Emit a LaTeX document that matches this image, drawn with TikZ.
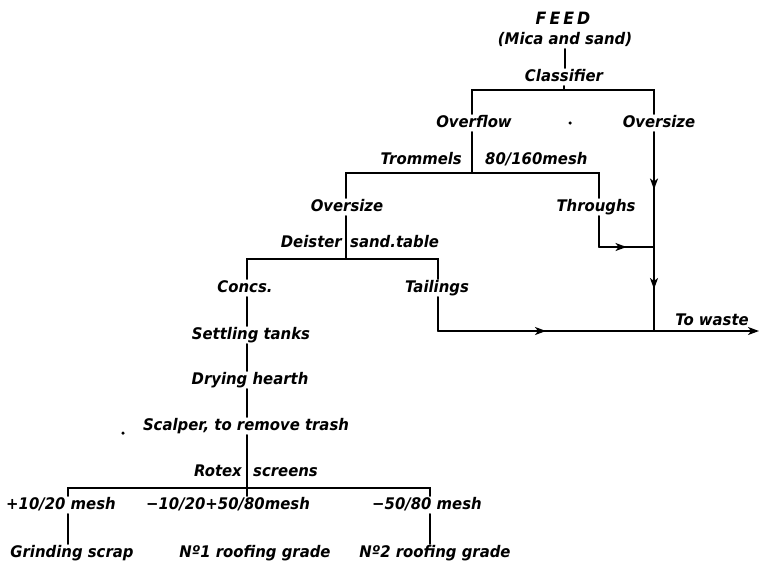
\documentclass[tikz,border=0pt]{standalone}
\usepackage{fontspec}
\newfontfamily\labfont{DejaVu Sans}[BoldItalicFont={DejaVu Sans Bold Oblique},FakeStretch=0.93]
\usetikzlibrary{arrows.meta,decorations.markings}
\tikzset{
  lbl/.style={inner sep=1pt, text height=12pt, text depth=3.5pt},
  flow/.style={line width=1.7pt, line cap=round},
  midarr/.style={flow, postaction={decorate},
    decoration={markings, mark=at position 0.5 with {\arrow{Stealth[length=11pt,width=8pt,inset=3pt]}}}},
  endarr/.style={flow, -{Stealth[length=11pt,width=8pt,inset=3pt]}},
  speck/.style={fill=black, circle, inner sep=0pt, minimum size=3.5pt}
}
\begin{document}
\begin{tikzpicture}[x=1pt,y=-1pt,font=\labfont\fontsize{16}{19}\selectfont\bfseries\itshape]
\useasboundingbox (0,0) rectangle (760,563);
% helper x positions of vertical lines
\coordinate (xA) at (472,0);
\coordinate (xB) at (654,0);
\coordinate (xC) at (346,0);
\coordinate (xD) at (599,0);
\coordinate (xE) at (247,0);
\coordinate (xF) at (438,0);
\coordinate (xG) at (68,0);
\coordinate (xH) at (430,0);
% junctions
\coordinate (j1) at (563,90);
\coordinate (j2) at (472,173);
\coordinate (j3) at (346,259);
\coordinate (j4) at (247,488);
\coordinate (jt) at (654,247);
\coordinate (jw) at (654,331);
\coordinate (tc) at (599,247);
\coordinate (wc) at (438,331);
\coordinate (wend) at (759,331);
% labels
\node[lbl] (feed) at (563,20) {\fontsize{17}{19}\selectfont F\hspace{3pt}E\hspace{3pt}E\hspace{3pt}D};
\node[lbl] (mica) at (565,40) {(Mica and sand)};
\node[lbl] (class) at (564,77) {Classifier};
\node[lbl] (overflow) at (474,123) {Overflow};
\node[lbl] (oversizeA) at (659,123) {Oversize};
\node[lbl,anchor=east] (trommels) at (463,160) {Trommels};
\node[lbl,anchor=west] (mesh80) at (484,160) {80/160mesh};
\node[lbl] (oversizeB) at (347,207) {Oversize};
\node[lbl] (throughs) at (596,207) {Throughs};
\node[lbl,anchor=east] (deister) at (343,243) {Deister};
\node[lbl,anchor=west] (sandtable) at (349,243) {sand.table};
\node[lbl] (concs) at (245,288) {Concs.};
\node[lbl] (tailings) at (437,288) {Tailings};
\node[lbl] (towaste) at (712,321) {To waste};
\node[lbl] (settling) at (251,335) {Settling tanks};
\node[lbl] (drying) at (250,380) {Drying hearth};
\node[lbl] (scalper) at (246,426) {Scalper, to remove trash};
\node[lbl,anchor=east] (rotexA) at (243,472) {Rotex};
\node[lbl,anchor=west] (rotexB) at (252,472) {screens};
\node[lbl] (plus) at (61,505) {+10/20 mesh};
\node[lbl] (midl) at (228,505) {−10/20+50/80mesh};
\node[lbl] (minus) at (427,505) {−50/80 mesh};
\node[lbl] (grinding) at (72,553) {Grinding scrap};
\node[lbl] (noone) at (255,553) {Nº1 roofing grade};
\node[lbl] (notwo) at (435,553) {Nº2 roofing grade};
\node[speck] (speckA) at (570,123) {};
\node[speck] (speckB) at (123,433) {};
% connectors
\draw[flow] (mica.south) -- (mica.south |- class.north);
\draw[flow] (class.south) -- (class.south |- j1);
\draw[flow] (overflow.north -| xA) |- (j1) -| (oversizeA.north -| xB);
\draw[flow] (overflow.south -| xA) -- (j2);
\draw[flow] (oversizeB.north -| xC) |- (j2) -| (throughs.north -| xD);
\draw[midarr] (oversizeA.south -| xB) -- (jt);
\draw[midarr] (jt) -- (jw);
\draw[flow] (throughs.south -| xD) -- (tc);
\draw[midarr] (tc) -- (jt);
\draw[flow] (oversizeB.south -| xC) -- (j3);
\draw[flow] (concs.north -| xE) |- (j3) -| (tailings.north -| xF);
\draw[flow] (tailings.south -| xF) -- (wc);
\draw[midarr] (wc) -- (jw);
\draw[endarr] (jw) -- (wend);
\draw[flow] (concs.south -| xE) -- (settling.north -| xE);
\draw[flow] (settling.south -| xE) -- (drying.north -| xE);
\draw[flow] (drying.south -| xE) -- (scalper.north -| xE);
\draw[flow] (scalper.south -| xE) -- (j4);
\draw[flow] (j4) -- (midl.north -| xE);
\draw[flow] (plus.north -| xG) |- (j4) -| (minus.north -| xH);
\draw[flow] (plus.south -| xG) -- (grinding.north -| xG);
\draw[flow] (minus.south -| xH) -- (notwo.north -| xH);
\end{tikzpicture}
\end{document}
